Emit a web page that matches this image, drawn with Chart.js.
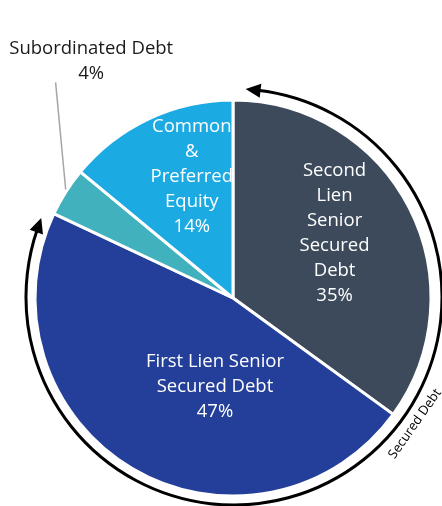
<!DOCTYPE html>
<html>
<head>
<meta charset="utf-8">
<script src="https://cdn.jsdelivr.net/npm/chart.js@4.4.1/dist/chart.umd.min.js"></script>
<style>
  html, body { margin: 0; padding: 0; background: #fff; }
  #wrap { width: 442px; height: 506px; }
</style>
</head>
<body>
<div id="wrap"><canvas id="pie" width="442" height="506"></canvas></div>
<script>
const categories = ['Second Lien Senior Secured Debt', 'First Lien Senior Secured Debt', 'Subordinated Debt', 'Common & Preferred Equity'];
const values = [35, 47, 4, 14];
const labelLines = [
    ['Second', 'Lien', 'Senior', 'Secured', 'Debt'],
    ['First Lien Senior', 'Secured Debt'],
    ['Subordinated Debt'],
    ['Common', '&', 'Preferred', 'Equity']
];
const bracketLabel = 'Secured Debt';

const FONT = '"Open Sans", "Noto Sans", sans-serif';

// where each label block sits, as a fraction of the pie radius from its centre
const labelAnchors = [
    { fx: 0.513, fy: -0.325, color: '#ffffff' },
    { fx: -0.091, fy: 0.447, color: '#ffffff' },
    { fx: -0.716, fy: -1.195, color: '#1a1a1a' },
    { fx: -0.208, fy: -0.61, color: '#ffffff' }
];

const sliceLabels = {
    id: 'sliceLabels',
    afterDatasetsDraw(chart) {
        const ctx = chart.ctx;
        const arcs = chart.getDatasetMeta(0).data;
        const cx = arcs[0].x, cy = arcs[0].y, r = arcs[0].outerRadius;
        const lineH = 25;

        ctx.save();
        ctx.font = '18.5px ' + FONT;
        ctx.textAlign = 'center';
        ctx.textBaseline = 'middle';
        labelLines.forEach((lines, i) => {
            const all = lines.concat([values[i] + '%']);
            const a = labelAnchors[i];
            const x = cx + a.fx * r;
            const y0 = cy + a.fy * r - (all.length - 1) * lineH / 2;
            ctx.fillStyle = a.color;
            all.forEach((t, j) => ctx.fillText(t, x, y0 + j * lineH));
        });

        // leader line for the small slice
        ctx.strokeStyle = '#a6a6a6';
        ctx.lineWidth = 1.5;
        ctx.beginPath();
        ctx.moveTo(cx - 0.896 * r, cy - 1.089 * r);
        ctx.lineTo(cx - 0.845 * r, cy - 0.548 * r);
        ctx.stroke();
        ctx.restore();
    },
    afterDraw(chart) {
        const ctx = chart.ctx;
        const arc0 = chart.getDatasetMeta(0).data[0];
        const cx = arc0.x + 1, cy = arc0.y - 1;
        const R = arc0.outerRadius + 10;
        const deg = Math.PI / 180;
        const a0 = -83.5 * deg, a1 = 199 * deg;

        ctx.save();
        ctx.strokeStyle = '#000';
        ctx.fillStyle = '#000';
        ctx.lineWidth = 3;
        ctx.beginPath();
        ctx.arc(cx, cy, R, a0, a1);
        ctx.stroke();

        const head = (ang, dir) => {
            // dir: +1 tangent of increasing angle, -1 decreasing
            const px = cx + R * Math.cos(ang), py = cy + R * Math.sin(ang);
            const tx = -Math.sin(ang) * dir, ty = Math.cos(ang) * dir;
            const nx = -ty, ny = tx;
            const L = 15, W = 7;
            ctx.beginPath();
            ctx.moveTo(px + tx * L * 0.8, py + ty * L * 0.8);
            ctx.lineTo(px - tx * L * 0.2 + nx * W, py - ty * L * 0.2 + ny * W);
            ctx.lineTo(px - tx * L * 0.2 - nx * W, py - ty * L * 0.2 - ny * W);
            ctx.closePath();
            ctx.fill();
        };
        head(a0, -1);
        head(a1, 1);

        // bracket text along the arc
        const ta = 35 * deg, tr = R + 13;
        ctx.translate(cx + tr * Math.cos(ta), cy + tr * Math.sin(ta));
        ctx.rotate(ta - Math.PI / 2);
        ctx.font = '13px ' + FONT;
        ctx.textAlign = 'center';
        ctx.textBaseline = 'middle';
        ctx.fillText(bracketLabel, 0, 0);
        ctx.restore();
    }
};

new Chart(document.getElementById('pie').getContext('2d'), {
    type: 'pie',
    data: {
        labels: categories,
        datasets: [{
            data: values,
            backgroundColor: ['#3d4a5c', '#243f99', '#41b2bd', '#1baae2'],
            borderColor: '#ffffff',
            borderWidth: 3
        }]
    },
    options: {
        responsive: false,
        animation: false,
        radius: 198,
        layout: { padding: { left: 30, right: 6, top: 95, bottom: 5 } },
        plugins: {
            legend: { display: false },
            tooltip: { enabled: false }
        }
    },
    plugins: [sliceLabels]
});
</script>
</body>
</html>
